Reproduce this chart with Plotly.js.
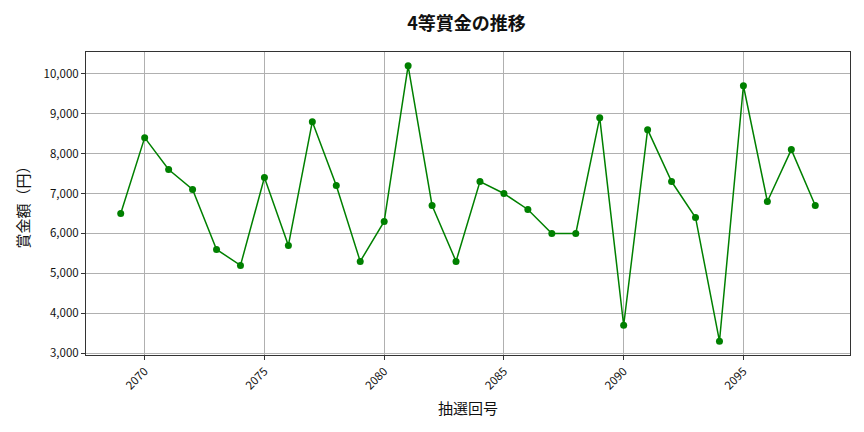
<!DOCTYPE html>
<html>
<head>
<meta charset="utf-8">
<script src="https://cdn.plot.ly/plotly-3.0.1.min.js"></script>
<style>body{margin:0;} #chart{width:864px;height:432px;}</style>
</head>
<body>
<div id="chart"></div>
<script>
const draws = [2069, 2070, 2071, 2072, 2073, 2074, 2075, 2076, 2077, 2078,
  2079, 2080, 2081, 2082, 2083, 2084, 2085, 2086, 2087, 2088,
  2089, 2090, 2091, 2092, 2093, 2094, 2095, 2096, 2097, 2098]
const prizes = [6500, 8400, 7600, 7100, 5600, 5200, 7400, 5700, 8800, 7200,
  5300, 6300, 10200, 6700, 5300, 7300, 7000, 6600, 6000, 6000,
  8900, 3700, 8600, 7300, 6400, 3300, 9700, 6800, 8100, 6700]

const font = 'Noto Sans CJK JP, Noto Sans, sans-serif'

var line = {
  x: draws,
  y: prizes,
  type: 'scatter',
  mode: 'lines+markers',
  line: {color: 'green', width: 1.5},
  marker: {color: 'green', size: 7}
};

var layout = {
  width: 864,
  height: 432,
  margin: {l: 86, r: 14, t: 52, b: 77},
  paper_bgcolor: 'white',
  plot_bgcolor: 'white',
  showlegend: false,
  font: {family: font, color: '#111'},
  title: {text: '<b>4等賞金の推移</b>', font: {size: 18, family: font, color: '#111'}, x: 0.54, xanchor: 'center', y: 0.945, yanchor: 'middle'},
  xaxis: {
    title: {text: '抽選回号', font: {size: 15, color: '#111'}, standoff: 12},
    range: [2067.55, 2099.45],
    tickvals: [2070, 2075, 2080, 2085, 2090, 2095],
    tickangle: -45,
    tickfont: {size: 11.5, color: '#111'},
    showgrid: true, gridcolor: '#b0b0b0', gridwidth: 0.8,
    showline: true, linecolor: '#333', linewidth: 1, mirror: true,
    ticks: 'outside', ticklen: 4, tickcolor: '#333',
    zeroline: false
  },
  yaxis: {
    title: {text: '賞金額（円）', font: {size: 15, color: '#111'}, standoff: 10},
    range: [2955, 10545],
    dtick: 1000,
    tickformat: ',d',
    tickfont: {size: 11.5, color: '#111'},
    showgrid: true, gridcolor: '#b0b0b0', gridwidth: 0.8,
    showline: true, linecolor: '#333', linewidth: 1, mirror: true,
    ticks: 'outside', ticklen: 4, tickcolor: '#333',
    zeroline: false
  }
};

Plotly.newPlot('chart', [line], layout, {displayModeBar: false});
</script>
</body>
</html>
